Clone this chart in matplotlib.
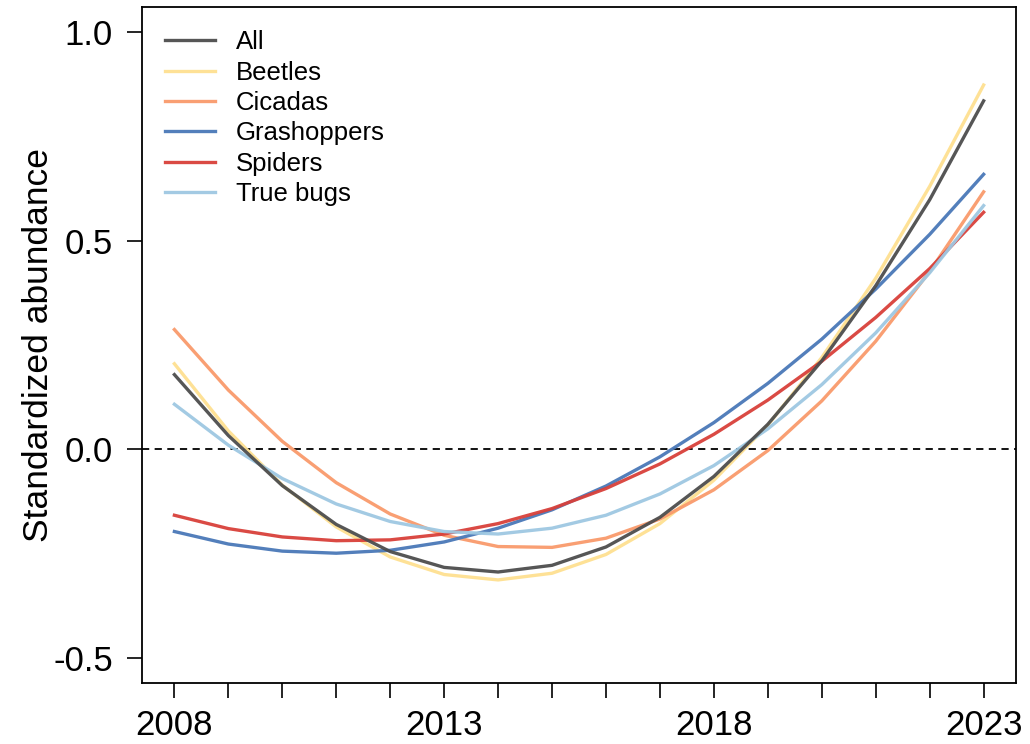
import matplotlib
matplotlib.use("Agg")
import matplotlib.pyplot as plt
import numpy as np

plt.rcParams['font.family'] = ['Liberation Sans', 'DejaVu Sans']

years = np.arange(2008, 2024)

all_taxa = [0.179, 0.033, -0.087, -0.180, -0.245, -0.283, -0.294, -0.278,
            -0.234, -0.163, -0.065, 0.060, 0.212, 0.392, 0.598, 0.835]
beetles = [0.205, 0.044, -0.086, -0.186, -0.258, -0.300, -0.313, -0.297,
           -0.252, -0.178, -0.074, 0.058, 0.220, 0.410, 0.630, 0.873]
cicadas = [0.287, 0.142, 0.019, -0.080, -0.155, -0.206, -0.233, -0.235,
           -0.213, -0.167, -0.097, -0.003, 0.116, 0.259, 0.426, 0.617]
grasshoppers = [-0.197, -0.227, -0.244, -0.249, -0.242, -0.222, -0.189, -0.145,
                -0.088, -0.018, 0.064, 0.158, 0.264, 0.384, 0.515, 0.659]
spiders = [-0.158, -0.190, -0.210, -0.219, -0.217, -0.203, -0.178, -0.142,
           -0.094, -0.035, 0.036, 0.118, 0.211, 0.316, 0.433, 0.568]
true_bugs = [0.108, 0.010, -0.070, -0.131, -0.173, -0.197, -0.203, -0.189,
             -0.158, -0.107, -0.039, 0.049, 0.155, 0.279, 0.423, 0.584]

labels = ["All", "Beetles", "Cicadas", "Grashoppers", "Spiders", "True bugs"]
series = [all_taxa, beetles, cicadas, grasshoppers, spiders, true_bugs]
colors = ["#4d4d4d", "#fee090", "#f99a6b", "#4a78b8", "#d8403a", "#9ec8e2"]
zorders = [10, 3, 4, 5, 6, 7]

fig = plt.figure(figsize=(10.3, 7.44), dpi=100)
ax = fig.add_axes([0.1379, 0.082, 0.8485, 0.9086])

ax.axhline(0, color="black", lw=1.3, ls=(0, (4, 3)), zorder=2)

for lab, y, c, z in zip(labels, series, colors, zorders):
    ax.plot(years, y, color=c, lw=2.4, label=lab, zorder=z, alpha=0.95,
            solid_joinstyle="round")

ax.set_xlim(2007.4, 2023.6)
ax.set_ylim(-0.56, 1.06)
ax.set_xticks(years)
ax.set_xticklabels([str(y) if (y - 2008) % 5 == 0 else "" for y in years])
ax.set_yticks([-0.5, 0.0, 0.5, 1.0])
ax.set_yticklabels(["-0.5", "0.0", "0.5", "1.0"])
ax.tick_params(axis="both", labelsize=25, length=11, width=1.2, direction="out")
ax.tick_params(axis="y", pad=10)
ax.tick_params(axis="x", pad=8)
for sp in ax.spines.values():
    sp.set_linewidth(1.3)

ax.set_ylabel("Standardized abundance", fontsize=25.5)
ax.yaxis.set_label_coords(-0.10, 0.5)

ax.legend(loc="upper left", bbox_to_anchor=(0.0, 1.0), frameon=False,
          fontsize=18.5, handlelength=1.95, handletextpad=0.8,
          labelspacing=0.25, borderaxespad=0.5)

fig.savefig("out.png", dpi=100)
